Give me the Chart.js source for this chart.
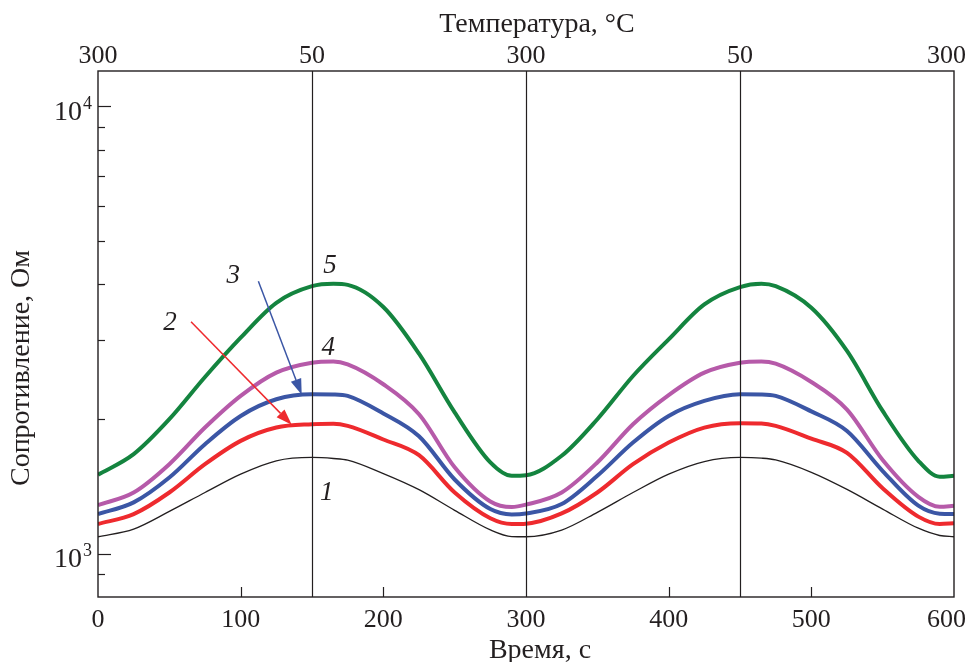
<!DOCTYPE html>
<html>
<head>
<meta charset="utf-8">
<script src="https://cdn.jsdelivr.net/npm/chart.js@4/dist/chart.umd.min.js"></script>
<style>
  html, body { margin: 0; padding: 0; background: #fff; }
  #wrap { width: 969px; height: 662px; position: relative; }
</style>
</head>
<body>
<div id="wrap"><canvas id="c"></canvas></div>
<script>
// ---- data ----
const timeSec = [0, 25, 50, 75, 100, 125, 150, 165, 175, 200, 225, 250, 275, 290, 300,
                 325, 350, 375, 400, 425, 450, 465, 475, 500, 525, 550, 575, 590, 600];
const curve1 = [1091, 1135, 1243, 1370, 1506, 1613, 1641, 1632, 1618, 1510, 1390, 1250, 1130, 1092, 1091,
                1129, 1237, 1370, 1506, 1607, 1641, 1635, 1620, 1520, 1392, 1258, 1140, 1098, 1091];
const curve2 = [1165, 1226, 1370, 1585, 1787, 1914, 1947, 1952, 1931, 1800, 1660, 1370, 1200, 1165, 1167,
                1230, 1370, 1585, 1772, 1914, 1958, 1955, 1931, 1808, 1680, 1400, 1210, 1165, 1169];
const curve3 = [1226, 1302, 1480, 1757, 2032, 2214, 2272, 2270, 2253, 2058, 1830, 1465, 1258, 1224, 1230,
                1291, 1493, 1772, 2032, 2195, 2272, 2270, 2253, 2080, 1880, 1530, 1280, 1228, 1226];
const curve4 = [1284, 1370, 1585, 1914, 2253, 2540, 2673, 2690, 2650, 2392, 2050, 1560, 1308, 1271, 1287,
                1370, 1599, 1947, 2263, 2540, 2673, 2690, 2660, 2420, 2100, 1620, 1340, 1273, 1280];
const curve5 = [1501, 1669, 1998, 2483, 3040, 3639, 3963, 4012, 3990, 3560, 2800, 2070, 1600, 1493, 1497,
                1655, 1998, 2496, 3014, 3608, 3945, 4012, 3963, 3546, 2839, 2085, 1613, 1486, 1493];

const curveColors = ['#231f20', '#ee2a2e', '#3b56a5', '#b65aa9', '#14843f'];
const curveWidths = [1.3, 4, 4, 4, 4];

const timeTicks = [0, 100, 200, 300, 400, 500, 600];
const timeLabels = ['0', '100', '200', '300', '400', '500', '600'];
const tempTickPos = [0, 150, 300, 450, 600];
const tempLabels = ['300', '50', '300', '50', '300'];
const dividerPos = [150, 300, 450];

const yMin = 800, yMax = 12000;
const yTickValues = [900, 1000, 2000, 3000, 4000, 5000, 6000, 7000, 8000, 9000, 10000];
const yMajor = [1000, 10000];
const yMajorExp = ['3', '4'];

const labelText = ['1', '2', '3', '4', '5'];
const labelX = [160.3, 50.5, 94.8, 161.4, 162.6];
const labelY = [1370, 3280, 4174, 2887, 4395];

const arrowColor = ['#ee2a2e', '#3b56a5'];
const arrowFromX = [65.2, 112.4];
const arrowFromY = [3300, 4064];
const arrowToX = [135.8, 142.8];
const arrowToY = [1941, 2265];

const xTitle = 'Время, с';
const x2Title = 'Температура, °C';
const yTitle = 'Сопротивление, Ом';

const SERIF = '"Liberation Serif", "Times New Roman", serif';
const TXT = '#231f20';
const TICK_SIZE = 26;
const TITLE_SIZE = 28;
const CANVAS_W = 969;

// ---- build datasets ----
const series = [curve1, curve2, curve3, curve4, curve5];
const datasets = series.map((arr, k) => ({
  label: labelText[k],
  data: timeSec.map((t, i) => ({ x: t, y: arr[i] })),
  borderColor: curveColors[k],
  borderWidth: curveWidths[k],
  pointRadius: 0,
  fill: false,
  cubicInterpolationMode: 'monotone',
  xAxisID: 'x',
  yAxisID: 'y'
}));

function drawTickLabel(ctx, text, px, py) {
  const w = ctx.measureText(text).width;
  let cx = px;
  if (cx + w / 2 > CANVAS_W - 3) cx = CANVAS_W - 3 - w / 2;
  ctx.fillText(text, cx, py);
}

// ---- custom drawing: frame, inward ticks, tick labels, titles, annotations ----
const decor = {
  id: 'decor',
  afterDatasetsDraw(chart) {
    const ctx = chart.ctx;
    const ca = chart.chartArea;
    const xs = chart.scales.x, ys = chart.scales.y, x2 = chart.scales.x2;
    ctx.save();
    ctx.strokeStyle = TXT;
    ctx.lineWidth = 1.2;
    dividerPos.forEach(v => {
      const px = Math.round(x2.getPixelForValue(v)) + 0.5;
      ctx.beginPath(); ctx.moveTo(px, ca.top); ctx.lineTo(px, ca.bottom); ctx.stroke();
    });
    ctx.lineWidth = 1.4;
    ctx.strokeRect(ca.left, ca.top, ca.right - ca.left, ca.bottom - ca.top);
    ctx.lineWidth = 1.2;
    timeTicks.forEach(v => {
      if (v === 0 || v === 600 || dividerPos.includes(v)) return;
      const px = Math.round(xs.getPixelForValue(v)) + 0.5;
      ctx.beginPath(); ctx.moveTo(px, ca.bottom); ctx.lineTo(px, ca.bottom - 10); ctx.stroke();
    });
    yTickValues.forEach(v => {
      const py = Math.round(ys.getPixelForValue(v)) + 0.5;
      const len = yMajor.includes(v) ? 13 : 7;
      ctx.beginPath(); ctx.moveTo(ca.left, py); ctx.lineTo(ca.left + len, py); ctx.stroke();
    });
    ctx.fillStyle = TXT;
    // x tick labels (bottom: time, top: temperature)
    ctx.font = TICK_SIZE + 'px ' + SERIF;
    ctx.textAlign = 'center';
    ctx.textBaseline = 'middle';
    timeTicks.forEach((v, i) => drawTickLabel(ctx, timeLabels[i], xs.getPixelForValue(v), ca.bottom + 23));
    tempTickPos.forEach((v, i) => drawTickLabel(ctx, tempLabels[i], x2.getPixelForValue(v), ca.top - 15));
    // y labels 10^n
    yMajor.forEach((v, i) => {
      const py = ys.getPixelForValue(v);
      ctx.font = '18px ' + SERIF;
      ctx.textAlign = 'right';
      ctx.textBaseline = 'middle';
      const ew = ctx.measureText(yMajorExp[i]).width;
      const right = ca.left - 6;
      ctx.fillText(yMajorExp[i], right, py - 2);
      ctx.font = '28px ' + SERIF;
      ctx.fillText('10', right - ew - 1, py + 6);
    });
    // axis titles
    ctx.font = TITLE_SIZE + 'px ' + SERIF;
    ctx.textAlign = 'center';
    ctx.textBaseline = 'middle';
    ctx.fillText(x2Title, 537, 25);
    ctx.fillText(xTitle, 540, 651);
    ctx.save();
    ctx.translate(22, 368);
    ctx.rotate(-Math.PI / 2);
    ctx.fillText(yTitle, 0, 0);
    ctx.restore();
    // curve numbers
    ctx.font = 'italic 27px ' + SERIF;
    labelText.forEach((t, i) => {
      ctx.fillText(t, xs.getPixelForValue(labelX[i]), ys.getPixelForValue(labelY[i]));
    });
    // arrows
    arrowColor.forEach((col, i) => {
      const x0 = xs.getPixelForValue(arrowFromX[i]), y0 = ys.getPixelForValue(arrowFromY[i]);
      const x1 = xs.getPixelForValue(arrowToX[i]), y1 = ys.getPixelForValue(arrowToY[i]);
      const ang = Math.atan2(y1 - y0, x1 - x0);
      const hl = 16, hw = 5.5;
      const bx = x1 - hl * Math.cos(ang), by = y1 - hl * Math.sin(ang);
      ctx.strokeStyle = col; ctx.fillStyle = col; ctx.lineWidth = 1.5;
      ctx.beginPath(); ctx.moveTo(x0, y0); ctx.lineTo(bx, by); ctx.stroke();
      ctx.beginPath();
      ctx.moveTo(x1, y1);
      ctx.lineTo(bx + hw * Math.sin(ang), by - hw * Math.cos(ang));
      ctx.lineTo(bx - hw * Math.sin(ang), by + hw * Math.cos(ang));
      ctx.closePath(); ctx.fill();
    });
    ctx.restore();
  }
};

const noPad = s => { s.paddingLeft = 0; s.paddingRight = 0; };

new Chart(document.getElementById('c'), {
  type: 'line',
  data: { datasets },
  options: {
    responsive: true,
    maintainAspectRatio: false,
    animation: false,
    events: [],
    layout: { padding: { left: 0, right: 15, top: 0, bottom: 0 } },
    plugins: { legend: { display: false }, tooltip: { enabled: false }, title: { display: false } },
    scales: {
      x: {
        type: 'linear', position: 'bottom', min: 0, max: 600,
        afterBuildTicks: s => { s.ticks = timeTicks.map(v => ({ value: v })); },
        ticks: { display: false },
        grid: { display: false, drawTicks: false },
        border: { display: false },
        afterFit: s => { s.height = 65; noPad(s); }
      },
      x2: {
        type: 'linear', position: 'top', min: 0, max: 600,
        afterBuildTicks: s => { s.ticks = tempTickPos.map(v => ({ value: v })); },
        ticks: { display: false },
        grid: { display: false, drawTicks: false },
        border: { display: false },
        afterFit: s => { s.height = 71; noPad(s); }
      },
      y: {
        type: 'logarithmic', position: 'left', min: yMin, max: yMax,
        afterBuildTicks: s => { s.ticks = yTickValues.map(v => ({ value: v })); },
        ticks: { display: false },
        grid: { display: false, drawTicks: false },
        border: { display: false },
        afterFit: s => { s.width = 98; s.paddingTop = 0; s.paddingBottom = 0; }
      }
    }
  },
  plugins: [decor]
});
</script>
</body>
</html>
